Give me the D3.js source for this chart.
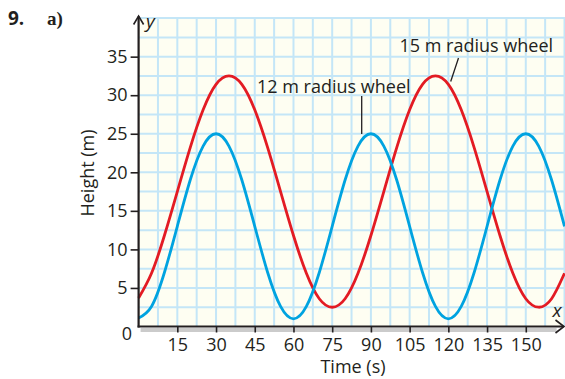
<!DOCTYPE html>
<html>
<head>
<meta charset="utf-8">
<script src="https://cdn.jsdelivr.net/npm/d3@7"></script>
<style>
  html, body { margin: 0; padding: 0; background: #ffffff; }
  svg { display: block; }
  text { font-family: "Open Sans", "Noto Sans", sans-serif; fill: #231f20; }
</style>
</head>
<body>
<svg id="chart" width="565" height="379"></svg>
<script>
// ---- data ----
const times = [0,5,10,15,20,25,30,35,40,45,50,55,60,65,70,75,80,85,90,95,100,105,110,115,120,125,130,135,140,145,150,155,160,165];
// 12 m radius wheel (blue)
const wheel12 = [1.1,2.6,7,13,19,23.4,25,23.4,19,13,7,2.6,1,2.6,7,13,19,23.4,25,23.4,19,13,7,2.6,1,2.6,7,13,19,23.4,25,23.4,19,13];
// 15 m radius wheel (red)
const wheel15 = [3.7,6.9,11.8,17.5,23.2,28.1,31.4,32.5,31.4,28.1,23.2,17.5,11.8,6.9,3.6,2.5,3.6,6.9,11.8,17.5,23.2,28.1,31.4,32.5,31.4,28.1,23.2,17.5,11.8,6.9,3.6,2.5,3.6,6.9];
const xTicks = [15,30,45,60,75,90,105,120,135,150];
const yTicks = [5,10,15,20,25,30,35];
const xGrid = d3.range(1, 23).map(k => k * 7.5);
const yGrid = d3.range(1, 17).map(k => k * 2.5);
const seriesLabels = ["12 m radius wheel", "15 m radius wheel"];

// ---- layout ----
const svg = d3.select("#chart");
const x = d3.scaleLinear().domain([0, 165]).range([138.6, 564.5]);
const y = d3.scaleLinear().domain([0, 40]).range([326.5, 18.1]);
const ink = "#231f20";

// plot background
svg.append("rect")
  .attr("x", x(0)).attr("y", y(40))
  .attr("width", x(165) - x(0)).attr("height", y(0) - y(40))
  .attr("fill", "#fefef2");

// grid
const grid = svg.append("g").attr("stroke", "#c4e6f7").attr("stroke-width", 2);
grid.selectAll("line.v").data(xGrid).join("line")
  .attr("x1", d => x(d)).attr("x2", d => x(d))
  .attr("y1", y(0)).attr("y2", y(40) - 1);
grid.selectAll("line.h").data(yGrid).join("line")
  .attr("x1", x(0)).attr("x2", x(165))
  .attr("y1", d => y(d)).attr("y2", d => y(d));

// axis shadow
svg.append("rect")
  .attr("x", x(0) + 2).attr("y", y(0) + 1.5)
  .attr("width", 416).attr("height", 4)
  .attr("fill", "#cbcbcb");

// curves
const line = d3.line().x(d => x(d[0])).y(d => y(d[1])).curve(d3.curveNatural);
svg.append("path")
  .attr("d", line(times.map((t, i) => [t, wheel15[i]])))
  .attr("fill", "none").attr("stroke", "#e31b23").attr("stroke-width", 2.8);
svg.append("path")
  .attr("d", line(times.map((t, i) => [t, wheel12[i]])))
  .attr("fill", "none").attr("stroke", "#00a3e0").attr("stroke-width", 2.8);

// y axis
const yAxis = svg.append("g").attr("transform", `translate(${x(0)},0)`)
  .call(d3.axisLeft(y).tickValues(yTicks).tickSize(8).tickPadding(3));
yAxis.select(".domain").remove();
yAxis.selectAll(".tick line").attr("stroke", ink).attr("stroke-width", 1.6);
yAxis.selectAll(".tick text").attr("font-size", 18).attr("fill", ink)
  .attr("font-family", null);

// x axis
const xAxis = svg.append("g").attr("transform", `translate(0,${y(0)})`)
  .call(d3.axisBottom(x).tickValues(xTicks).tickSize(6));
xAxis.select(".domain").remove();
xAxis.selectAll(".tick line").attr("stroke", ink).attr("stroke-width", 1.6);
xAxis.selectAll(".tick text").attr("font-size", 18).attr("fill", ink)
  .attr("font-family", null).attr("y", 24).attr("dy", null);

// axis lines with arrows
svg.append("line").attr("x1", x(0)).attr("x2", x(0))
  .attr("y1", y(0) + 1).attr("y2", 16.5)
  .attr("stroke", ink).attr("stroke-width", 2.2);
svg.append("line").attr("x1", x(0) - 1).attr("x2", 563.5)
  .attr("y1", y(0)).attr("y2", y(0))
  .attr("stroke", ink).attr("stroke-width", 2.2);
svg.append("polyline")
  .attr("points", `${x(0) - 5},24.5 ${x(0)},16 ${x(0) + 5},24.5`)
  .attr("fill", "none").attr("stroke", ink).attr("stroke-width", 1.6);
svg.append("polyline")
  .attr("points", `555.5,${y(0) - 6.5} 564,${y(0)} 555.5,${y(0) + 6.5}`)
  .attr("fill", "none").attr("stroke", ink).attr("stroke-width", 1.6);

// axis letters
svg.append("text").attr("x", 146).attr("y", 28).attr("font-size", 19)
  .attr("font-style", "italic").text("y");
svg.append("text").attr("x", 552.5).attr("y", 317).attr("font-size", 19)
  .attr("font-style", "italic").text("x");
svg.append("text").attr("x", 127).attr("y", 340).attr("font-size", 18)
  .attr("text-anchor", "middle").text("0");

// axis titles
svg.append("text").attr("x", 353).attr("y", 373).attr("font-size", 18)
  .attr("text-anchor", "middle").text("Time (s)");
svg.append("text").attr("transform", "translate(94,173) rotate(-90)")
  .attr("font-size", 18).attr("text-anchor", "middle").text("Height (m)");

// series labels + leader lines
svg.append("text").attr("x", 257).attr("y", 93.3).attr("font-size", 18).text(seriesLabels[0]);
svg.append("line").attr("x1", 361.7).attr("x2", 361.7).attr("y1", 96).attr("y2", 134)
  .attr("stroke", ink).attr("stroke-width", 1.3);
svg.append("text").attr("x", 399.5).attr("y", 51.7).attr("font-size", 18).text(seriesLabels[1]);
svg.append("line").attr("x1", 458.5).attr("x2", 450.7).attr("y1", 58).attr("y2", 81.5)
  .attr("stroke", ink).attr("stroke-width", 1.3);

// question numbering
svg.append("text").attr("x", 8).attr("y", 24.5).attr("font-size", 19)
  .attr("font-weight", "bold").text("9.");
svg.append("text").attr("x", 47).attr("y", 24.5).attr("font-size", 19)
  .attr("font-weight", "bold")
  .style("font-family", "'Liberation Serif', 'DejaVu Serif', serif")
  .text("a)");
</script>
</body>
</html>
